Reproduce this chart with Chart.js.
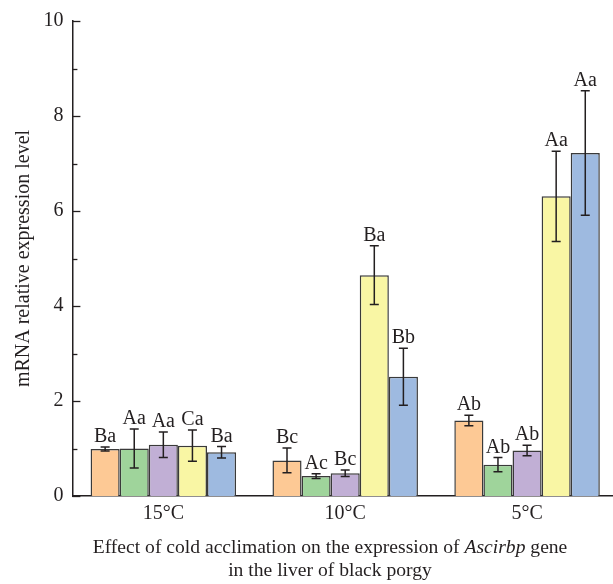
<!DOCTYPE html>
<html>
<head>
<meta charset="utf-8">
<script src="https://cdn.jsdelivr.net/npm/chart.js@4.4.0/dist/chart.umd.min.js"></script>
<style>
  html, body { margin: 0; padding: 0; background: #fff; overflow: hidden; width: 613px; height: 584px; }
  #wrap { width: 620px; height: 584px; }
</style>
</head>
<body>
<div id="wrap"><canvas id="c" width="620" height="584"></canvas></div>
<script>
// ---- data ----
const categories = ["15°C", "10°C", "5°C"];
const seriesNames = ["Group 1", "Group 2", "Group 3", "Group 4", "Group 5"];
const values1 = [0.99, 0.75, 1.59];
const values2 = [1.00, 0.42, 0.66];
const values3 = [1.08, 0.48, 0.96];
const values4 = [1.06, 4.65, 6.31];
const values5 = [0.92, 2.51, 7.22];
const errors1 = [0.04, 0.26, 0.11];
const errors2 = [0.41, 0.05, 0.15];
const errors3 = [0.27, 0.07, 0.11];
const errors4 = [0.33, 0.62, 0.95];
const errors5 = [0.12, 0.60, 1.31];
const letters1 = ["Ba", "Bc", "Ab"];
const letters2 = ["Aa", "Ac", "Ab"];
const letters3 = ["Aa", "Bc", "Ab"];
const letters4 = ["Ca", "Ba", "Aa"];
const letters5 = ["Ba", "Bb", "Aa"];
const yTicks = [0, 2, 4, 6, 8, 10];
const yMinorTicks = [1, 3, 5, 7, 9];
const yTitle = "mRNA relative expression level";
const xTitleLine1 = ["Effect of cold acclimation on the expression of ", "Ascirbp", " gene"];
const xTitleLine2 = "in the liver of black porgy";

const colors = ["#FDC995", "#9FD49B", "#C1AFD5", "#F9F6A4", "#9EBAE0"];
const allValues = [values1, values2, values3, values4, values5];
const allErrors = [errors1, errors2, errors3, errors4, errors5];
const allLetters = [letters1, letters2, letters3, letters4, letters5];

const FONT = "'Liberation Serif', 'Times New Roman', serif";
const INK = "#231f20";
const FS = 20;
const TFS = 19.6;

const datasets = allValues.map((v, i) => ({
  label: seriesNames[i],
  data: v,
  backgroundColor: colors[i],
  borderColor: "#3a3a3a",
  borderWidth: 1.5,
  categoryPercentage: 0.8,
  barPercentage: 1.0,
  errors: allErrors[i],
  letters: allLetters[i]
}));

const decor = {
  id: "decor",
  afterDatasetsDraw(chart) {
    const ctx = chart.ctx;
    const y = chart.scales.y;
    const area = chart.chartArea;
    ctx.save();
    // inward ticks
    ctx.strokeStyle = INK;
    ctx.lineWidth = 1.3;
    yTicks.forEach(t => {
      const py = Math.round(y.getPixelForValue(t)) + 0.5;
      ctx.beginPath(); ctx.moveTo(area.left, py); ctx.lineTo(area.left + 8, py); ctx.stroke();
    });
    yMinorTicks.forEach(t => {
      const py = Math.round(y.getPixelForValue(t)) + 0.5;
      ctx.beginPath(); ctx.moveTo(area.left, py); ctx.lineTo(area.left + 5, py); ctx.stroke();
    });
    // error bars and letters
    chart.data.datasets.forEach((ds, i) => {
      const meta = chart.getDatasetMeta(i);
      meta.data.forEach((el, j) => {
        const v = ds.data[j], e = ds.errors[j];
        const top = y.getPixelForValue(v + e);
        const bot = y.getPixelForValue(v - e);
        const x = el.x;
        ctx.strokeStyle = INK;
        ctx.lineWidth = 1.5;
        ctx.beginPath();
        ctx.moveTo(x, top); ctx.lineTo(x, bot);
        ctx.moveTo(x - 4.5, top); ctx.lineTo(x + 4.5, top);
        ctx.moveTo(x - 4.5, bot); ctx.lineTo(x + 4.5, bot);
        ctx.stroke();
        ctx.fillStyle = INK;
        ctx.font = FS + "px " + FONT;
        ctx.textAlign = "center";
        ctx.textBaseline = "alphabetic";
        ctx.fillText(ds.letters[j], x, top - 5);
      });
    });
    // y title
    ctx.save();
    ctx.translate(24, (area.top + area.bottom) / 2);
    ctx.rotate(-Math.PI / 2);
    ctx.font = FS + "px " + FONT;
    ctx.textAlign = "center";
    ctx.textBaseline = "middle";
    ctx.fillText(yTitle, 0, 0);
    ctx.restore();
    // x title (two lines, italic gene name)
    const cx = 330;
    const fonts = [TFS + "px " + FONT, "italic " + TFS + "px " + FONT, TFS + "px " + FONT];
    let widths = xTitleLine1.map((s, k) => { ctx.font = fonts[k]; return ctx.measureText(s).width; });
    let total = widths.reduce((a, b) => a + b, 0);
    let xx = cx - total / 2;
    ctx.textAlign = "left";
    ctx.textBaseline = "alphabetic";
    xTitleLine1.forEach((s, k) => { ctx.font = fonts[k]; ctx.fillText(s, xx, 553); xx += widths[k]; });
    ctx.font = TFS + "px " + FONT;
    ctx.textAlign = "center";
    ctx.fillText(xTitleLine2, cx, 576);
    ctx.restore();
  }
};

new Chart(document.getElementById("c"), {
  type: "bar",
  data: { labels: categories, datasets },
  options: {
    responsive: false,
    animation: false,
    devicePixelRatio: 1,
    layout: { padding: { top: 19, right: 2, left: 0, bottom: 0 } },
    plugins: { legend: { display: false }, tooltip: { enabled: false } },
    scales: {
      x: {
        grid: { display: false, drawTicks: false },
        border: { display: true, color: INK, width: 1.5 },
        ticks: { font: { family: FONT, size: FS }, color: INK, padding: 6 },
        afterFit(s) { s.height = 88; }
      },
      y: {
        min: 0, max: 10,
        grid: { display: false, drawTicks: false },
        border: { display: true, color: INK, width: 1.5 },
        ticks: { stepSize: 2, font: { family: FONT, size: FS }, color: INK, padding: 9 },
        afterFit(s) { s.width = 72.4; }
      }
    }
  },
  plugins: [decor]
});
</script>
</body>
</html>
